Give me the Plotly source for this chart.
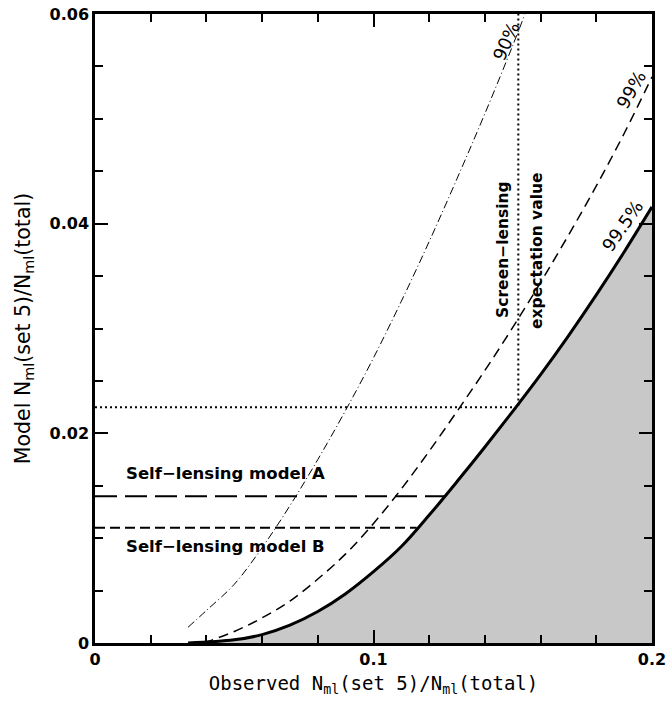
import plotly.graph_objects as go

# 99.5% curve (solid, shaded below)
x995 = [0.0334, 0.05, 0.06, 0.07, 0.08, 0.09, 0.10, 0.11, 0.12, 0.13, 0.14, 0.15, 0.16, 0.17, 0.18, 0.19, 0.20]
y995 = [0.0, 0.0003, 0.0008, 0.0017, 0.0030, 0.0047, 0.0068, 0.0092, 0.0122, 0.0154, 0.0187, 0.0221, 0.0256, 0.0293, 0.0332, 0.0373, 0.0416]
# 99% curve (dashed)
x99 = [0.039, 0.05, 0.06, 0.07, 0.08, 0.09, 0.10, 0.11, 0.12, 0.13, 0.14, 0.15, 0.16, 0.17, 0.18, 0.19, 0.20]
y99 = [0.0, 0.0011, 0.0024, 0.0040, 0.0061, 0.0085, 0.0114, 0.0147, 0.0183, 0.0221, 0.0260, 0.0301, 0.0344, 0.0389, 0.0436, 0.0486, 0.0540]
# 90% curve (dash-dot)
x90 = [0.0334, 0.04, 0.05, 0.06, 0.07, 0.08, 0.09, 0.10, 0.11, 0.12, 0.13, 0.14, 0.15, 0.1544]
y90 = [0.0015, 0.0031, 0.0056, 0.0091, 0.0131, 0.0175, 0.0222, 0.0272, 0.0326, 0.0383, 0.0443, 0.0505, 0.0570, 0.0600]

screen_x = 0.152
screen_y = 0.0225
modelA_y = 0.014
modelA_xend = 0.1257
modelB_y = 0.011
modelB_xend = 0.1155

x_minor = [0, 0.02, 0.04, 0.06, 0.08, 0.1, 0.12, 0.14, 0.16, 0.18, 0.2]
x_major = [0, 0.1, 0.2]
x_labels = ["0", "0.1", "0.2"]

fig = go.Figure()
fig.add_trace(go.Scatter(x=x995, y=y995, mode="lines", line=dict(color="black", width=3, shape="spline"),
                         fill="tozeroy", fillcolor="#c8c8c8"))
fig.add_trace(go.Scatter(x=x99, y=y99, mode="lines", line=dict(color="black", width=1.5, dash="10px,6px", shape="spline")))
fig.add_trace(go.Scatter(x=x90, y=y90, mode="lines", line=dict(color="black", width=1, dash="8px,3px,1px,3px", shape="spline")))
fig.add_trace(go.Scatter(x=[0, screen_x, screen_x], y=[screen_y, screen_y, 0.06], mode="lines",
                         line=dict(color="black", width=2, dash="2px,3px")))
fig.add_trace(go.Scatter(x=[0, modelA_xend], y=[modelA_y, modelA_y], mode="lines",
                         line=dict(color="black", width=2, dash="22px,8px")))
fig.add_trace(go.Scatter(x=[0, modelB_xend], y=[modelB_y, modelB_y], mode="lines",
                         line=dict(color="black", width=2, dash="10px,5px")))
# invisible trace on overlay axis carrying the long labelled x ticks
fig.add_trace(go.Scatter(x=[0, 0.2], y=[0, 0], xaxis="x2", mode="lines", line=dict(width=0), hoverinfo="skip", showlegend=False))

bold = dict(family="DejaVu Sans", size=16.5, color="black", weight="bold")
bold2 = dict(family="DejaVu Sans", size=15.5, color="black", weight="bold")
norm = dict(family="DejaVu Sans", size=18, color="black")
ann = [
    dict(x=0.0105, y=0.0162, text="Self−lensing model A", xanchor="left", yanchor="middle", font=bold),
    dict(x=0.0105, y=0.0092, text="Self−lensing model B", xanchor="left", yanchor="middle", font=bold),
    dict(x=0.1465, y=0.0375, text="Screen−lensing", textangle=-90, font=bold2),
    dict(x=0.1587, y=0.0374, text="expectation value", textangle=-90, font=bold2),
    dict(x=0.1475, y=0.0574, text="90%", textangle=-66, font=norm),
    dict(x=0.1925, y=0.0528, text="99%", textangle=-60, font=norm),
    dict(x=0.1895, y=0.0398, text="99.5%", textangle=-55, font=norm),
]
for a in ann:
    a.update(xref="x", yref="y", showarrow=False)

tickfont = dict(family="DejaVu Sans", size=16, color="black", weight="bold")
fig.update_layout(
    width=667, height=702, margin=dict(l=95, r=15, t=14, b=59),
    plot_bgcolor="white", paper_bgcolor="white", showlegend=False,
    annotations=ann,
    xaxis=dict(range=[0, 0.2], showgrid=False, zeroline=False, showline=True, linewidth=2.5, linecolor="black",
               mirror="ticks", ticks="inside", tickwidth=2, ticklen=8, tickcolor="black", automargin=False,
               tickmode="array", tickvals=x_minor, ticktext=["" for _ in x_minor],
               title=dict(text="Observed N<sub>ml</sub>(set 5)/N<sub>ml</sub>(total)", standoff=30,
                          font=dict(family="DejaVu Sans Mono", size=19, color="black"))),
    xaxis2=dict(range=[0, 0.2], overlaying="x", anchor="y", side="bottom", showgrid=False, zeroline=False,
                showline=True, linewidth=2.5, linecolor="black", mirror="ticks", ticks="inside", tickwidth=2,
                ticklen=13, tickcolor="black", automargin=False, tickmode="array", tickvals=x_major,
                ticktext=x_labels, tickfont=tickfont),
    yaxis=dict(range=[0, 0.06], showgrid=False, zeroline=False, showline=True, linewidth=2.5, linecolor="black",
               mirror="ticks", ticks="inside", tickwidth=2, ticklen=13, tickcolor="black", automargin=False,
               tickmode="linear", tick0=0, dtick=0.02, tickfont=tickfont,
               minor=dict(ticks="inside", tickmode="linear", tick0=0, dtick=0.005, ticklen=8, tickwidth=2, tickcolor="black"),
               title=dict(text="Model N<sub>ml</sub>(set 5)/N<sub>ml</sub>(total)", standoff=14,
                          font=dict(family="DejaVu Sans", size=20.5, color="black"))),
)

fig.write_html("out.html")
